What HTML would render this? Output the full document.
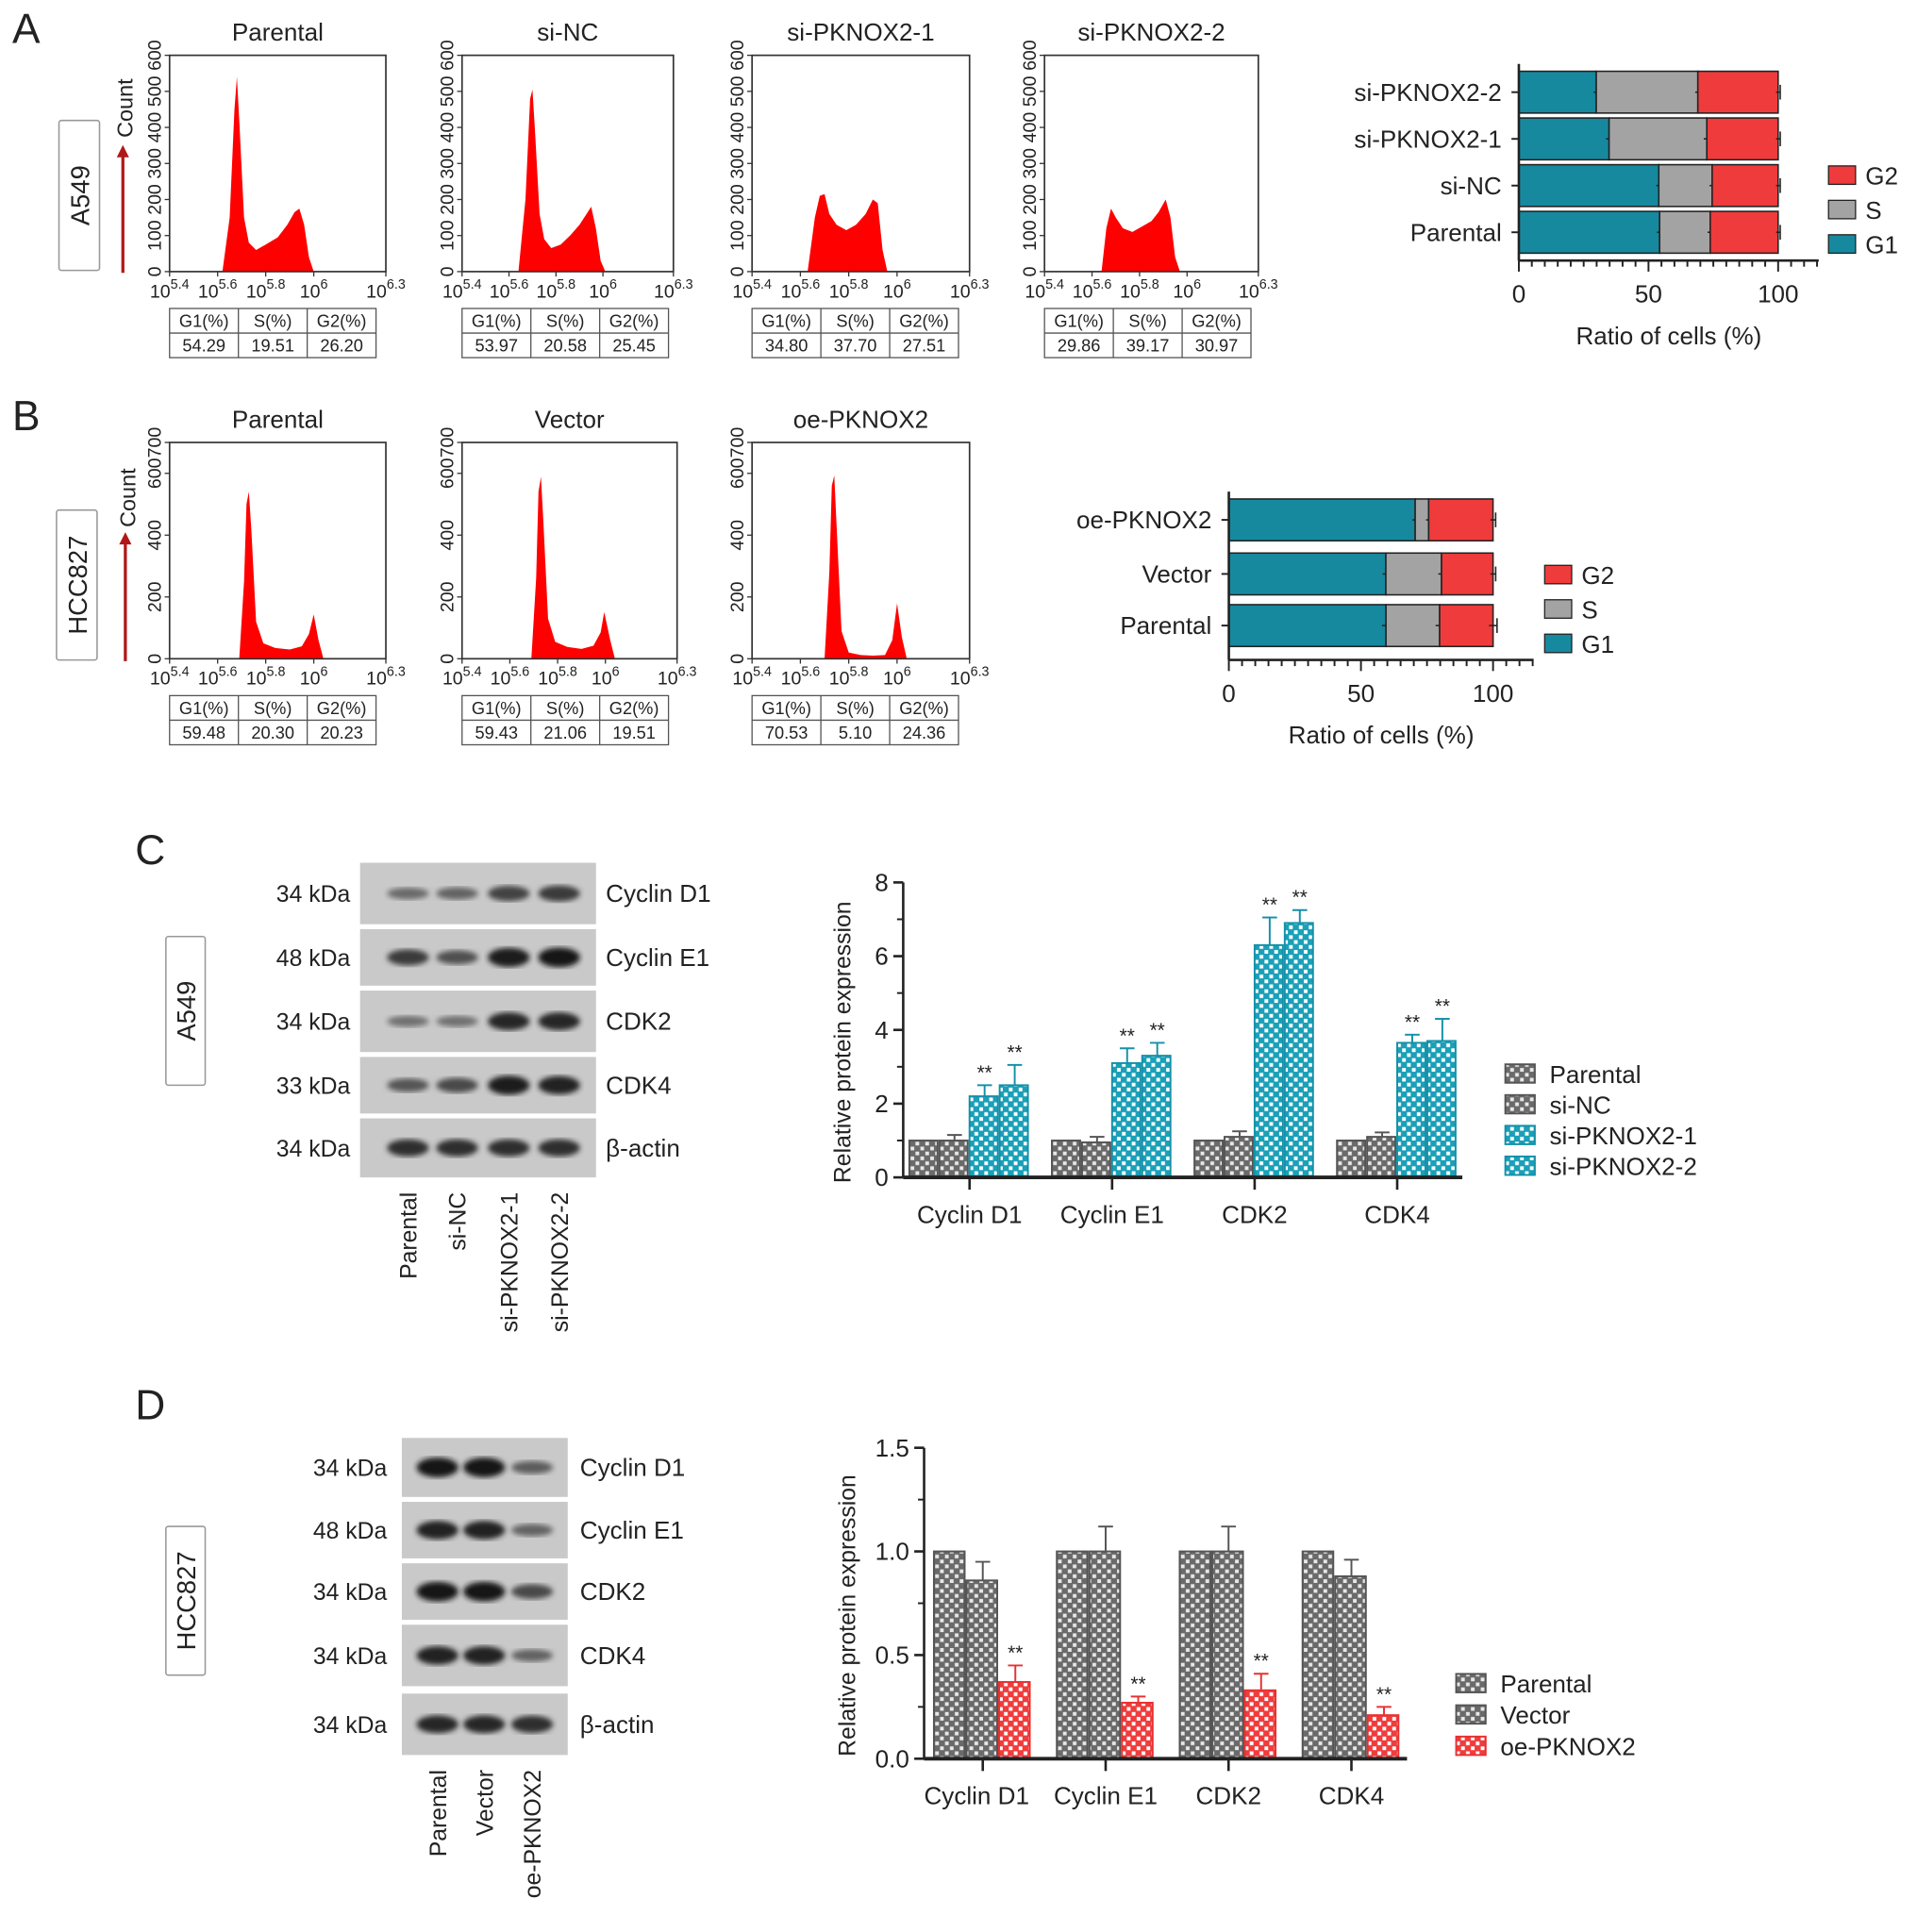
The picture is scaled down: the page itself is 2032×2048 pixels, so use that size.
<!DOCTYPE html>
<html><head><meta charset="utf-8">
<style>
html,body{margin:0;padding:0;background:#fff;}
svg{display:block;font-family:"Liberation Sans",Arial,sans-serif;}
</style></head>
<body>
<svg id="fig" width="2032" height="2048" viewBox="0 0 1560 1572" preserveAspectRatio="none" xmlns="http://www.w3.org/2000/svg">
<defs>
<pattern id="chkGray" width="8" height="8" patternUnits="userSpaceOnUse"><rect width="8" height="8" fill="#6a6a6a"/><rect x="1" y="1" width="3" height="3" fill="#e8e8e8"/><rect x="5" y="5" width="3" height="3" fill="#e8e8e8"/></pattern>
<pattern id="chkTeal" width="8" height="8" patternUnits="userSpaceOnUse"><rect width="8" height="8" fill="#1aa0b8"/><rect x="1" y="1" width="3" height="3" fill="#ffffff"/><rect x="5" y="5" width="3" height="3" fill="#ffffff"/></pattern>
<pattern id="chkRed" width="8" height="8" patternUnits="userSpaceOnUse"><rect width="8" height="8" fill="#f03c3c"/><rect x="1" y="1" width="3" height="3" fill="#ffffff"/><rect x="5" y="5" width="3" height="3" fill="#ffffff"/></pattern>
<filter id="blur2"><feGaussianBlur stdDeviation="2.2"/></filter>
</defs>
</svg>
<script>
// ===== Histogram data (log10 fluorescence, count) =====
const hA1x=[5.62,5.65,5.67,5.68,5.69,5.71,5.73,5.76,5.80,5.85,5.89,5.92,5.94,5.96,5.98,6.00];
const hA1y=[0,150,450,540,420,150,80,60,75,95,130,165,175,130,40,0];
const hA2x=[5.64,5.67,5.69,5.70,5.71,5.73,5.75,5.78,5.82,5.86,5.90,5.93,5.95,5.97,5.99,6.01];
const hA2y=[0,200,480,505,400,160,90,65,75,100,130,160,180,120,30,0];
const hA3x=[5.63,5.66,5.68,5.70,5.72,5.75,5.79,5.83,5.87,5.90,5.92,5.94,5.96];
const hA3y=[0,150,210,215,160,130,115,130,160,200,190,60,0];
const hA4x=[5.64,5.66,5.68,5.70,5.73,5.77,5.81,5.85,5.88,5.91,5.93,5.95,5.97];
const hA4y=[0,120,175,150,120,110,125,140,165,200,150,40,0];
const hB1x=[5.69,5.71,5.72,5.73,5.74,5.76,5.79,5.84,5.90,5.95,5.98,6.00,6.02,6.04];
const hB1y=[0,250,500,541,420,120,50,35,30,40,80,143,60,0];
const hB2x=[5.69,5.71,5.72,5.73,5.74,5.76,5.79,5.84,5.90,5.95,5.98,5.995,6.02,6.04];
const hB2y=[0,260,540,589,450,130,55,38,32,42,85,151,60,0];
const hB3x=[5.70,5.72,5.73,5.74,5.75,5.77,5.80,5.85,5.90,5.95,5.98,6.00,6.02,6.04];
const hB3y=[0,280,560,593,430,90,20,12,10,12,60,179,70,0];
const histTitlesA=['Parental','si-NC','si-PKNOX2-1','si-PKNOX2-2'];
const histTitlesB=['Parental','Vector','oe-PKNOX2'];
const xTickExps=['5.4','5.6','5.8','6','6.3'];
const yTicksA=[0,100,200,300,400,500,600];
const yTicksB=[0,200,400,600,700];
// cell cycle percentages (G1,S,G2)
const ccA=[[54.29,19.51,26.20],[53.97,20.58,25.45],[34.80,37.70,27.51],[29.86,39.17,30.97]];
const ccB=[[59.48,20.30,20.23],[59.43,21.06,19.51],[70.53,5.10,24.36]];
const ccErrA=[[1.0,1.0,0.8],[1.0,1.0,0.8],[1.2,1.2,0.8],[1.0,1.0,0.8]];
const ccErrB=[[1.5,1.5,1.5],[1.2,1.2,1.0],[1.0,1.0,1.0]];
// western quantification C
const cCats=['Cyclin D1','Cyclin E1','CDK2','CDK4'];
const cSeries=['Parental','si-NC','si-PKNOX2-1','si-PKNOX2-2'];
const cParental=[1,1,1,1];
const cSiNC=[1,0.95,1.1,1.1];
const cSi1=[2.2,3.1,6.3,3.65];
const cSi2=[2.5,3.3,6.9,3.7];
const cErrParental=[0,0,0,0];
const cErrSiNC=[0.15,0.15,0.15,0.12];
const cErrSi1=[0.3,0.4,0.75,0.22];
const cErrSi2=[0.55,0.35,0.35,0.6];
const cYTicks=[0,2,4,6,8];
// western quantification D
const dCats=['Cyclin D1','Cyclin E1','CDK2','CDK4'];
const dSeries=['Parental','Vector','oe-PKNOX2'];
const dParental=[1,1,1,1];
const dVector=[0.86,1.0,1.0,0.88];
const dOe=[0.37,0.27,0.33,0.21];
const dErrParental=[0,0,0,0];
const dErrVector=[0.09,0.12,0.12,0.08];
const dErrOe=[0.08,0.03,0.08,0.04];
const dYTicks=['0.0','0.5','1.0','1.5'];
// blot band intensities (0..1) per row per lane
const blotCRows=['Cyclin D1','Cyclin E1','CDK2','CDK4','β-actin'];
const blotCkDa=['34 kDa','48 kDa','34 kDa','33 kDa','34 kDa'];
const blotCInt=[[0.35,0.4,0.65,0.7],[0.7,0.55,0.95,1.0],[0.3,0.3,0.85,0.85],[0.5,0.6,0.95,0.9],[0.8,0.8,0.8,0.8]];
const blotCLanes=['Parental','si-NC','si-PKNOX2-1','si-PKNOX2-2'];
const blotDRows=['Cyclin D1','Cyclin E1','CDK2','CDK4','β-actin'];
const blotDkDa=['34 kDa','48 kDa','34 kDa','34 kDa','34 kDa'];
const blotDInt=[[1.0,1.0,0.45],[0.9,0.9,0.4],[1.0,1.0,0.6],[0.9,0.9,0.4],[0.85,0.85,0.8]];
const blotDLanes=['Parental','Vector','oe-PKNOX2'];

const NS='http://www.w3.org/2000/svg';
const svg=document.getElementById('fig');
function mk(parent,tag,attrs,text){const e=document.createElementNS(NS,tag);for(const k in attrs)e.setAttribute(k,attrs[k]);if(text!==undefined)e.textContent=text;parent.appendChild(e);return e;}
function txt(parent,x,y,s,size,anchor,name,rot){const t=mk(parent,'text',{x:x,y:y,'font-size':size,'text-anchor':anchor||'middle',fill:'#222'},s);if(rot)t.setAttribute('transform','rotate('+rot+' '+x+' '+y+')');


return t;}

// panel letters
[['A',10,35],['B',10,350],['C',110,703],['D',110,1155]].forEach(p=>{txt(svg,p[1],p[2],p[0],34,'start','panel-label-'+p[0].toLowerCase());});

// cell line boxes
function lineBox(x,y,w,h,label){const g=mk(svg,'g',{});


mk(g,'rect',{x:x,y:y,width:w,height:h,fill:'#fff',stroke:'#999','stroke-width':1.2,rx:2});
txt(g,x+w/2+8,y+h/2,label,21,'middle','cell-line-label',-90);}
lineBox(48,98,33,122,'A549');
lineBox(46,415,33,122,'HCC827');
lineBox(135,762,32,121,'A549');
lineBox(135,1242,32,121,'HCC827');

// count arrows
function countArrow(x,y1,y2,ty){const g=mk(svg,'g',{});


mk(g,'line',{x1:x,y1:y1,x2:x,y2:y2+6,stroke:'#b01818','stroke-width':2.5});
mk(g,'path',{d:'M'+(x-5)+' '+(y2+8)+' L'+x+' '+(y2-2)+' L'+(x+5)+' '+(y2+8)+'Z',fill:'#b01818'});
txt(g,x+8,ty,'Count',18,'middle','count-label',-90);}
countArrow(100,222,120,88);
countArrow(102,538,435,405);

function histogram(bx,by,bw,bh,xs,ys,ymax,yt,title,tbl,name){
  const g=mk(svg,'g',{});
  
  
  const X=v=>bx+(v-5.4)/0.9*bw, Y=v=>by+bh-v/ymax*bh;
  txt(g,bx+bw/2,by-12,title,20,'middle','histogram-title');
  let d='M'+X(xs[0])+' '+Y(0);
  for(let i=0;i<xs.length;i++)d+=' L'+X(xs[i]).toFixed(1)+' '+Y(ys[i]).toFixed(1);
  d+=' Z';
  const p=mk(g,'path',{d:d,fill:'#ff0000'});
  
  
  mk(g,'rect',{x:bx,y:by,width:bw,height:bh,fill:'none',stroke:'#333','stroke-width':1.3});
  yt.forEach(v=>{mk(g,'line',{x1:bx-4,x2:bx,y1:Y(v),y2:Y(v),stroke:'#333'});
    txt(g,bx-7,Y(v),String(v),15,'middle','y-tick-label',-90);});
  xTickExps.forEach(e=>{const xx=X(parseFloat(e));mk(g,'line',{x1:xx,x2:xx,y1:by+bh,y2:by+bh+4,stroke:'#333'});
    const t=mk(g,'text',{x:xx,y:by+bh+21,'font-size':15,'text-anchor':'middle',fill:'#222'});
    
    
    mk(t,'tspan',{},'10');mk(t,'tspan',{dy:-7,'font-size':11},e);});
  // table
  const tx=bx,ty=by+bh+30,cw=56,rh=20;
  const hd=['G1(%)','S(%)','G2(%)'];
  mk(g,'rect',{x:tx,y:ty,width:cw*3,height:rh*2,fill:'#fff',stroke:'#555','stroke-width':1});
  mk(g,'line',{x1:tx,x2:tx+cw*3,y1:ty+rh,y2:ty+rh,stroke:'#555'});
  for(let c=0;c<3;c++){if(c)mk(g,'line',{x1:tx+c*cw,x2:tx+c*cw,y1:ty,y2:ty+rh*2,stroke:'#555'});
    txt(g,tx+c*cw+cw/2,ty+15,hd[c],14,'middle','table-header');
    txt(g,tx+c*cw+cw/2,ty+rh+15,tbl[c].toFixed(2),14,'middle','table-value');}
}
histogram(138,45,176,176,hA1x,hA1y,600,yTicksA,histTitlesA[0],ccA[0],'histogram-a-parental');
histogram(376,45,172,176,hA2x,hA2y,600,yTicksA,histTitlesA[1],ccA[1],'histogram-a-si-nc');
histogram(612,45,177,176,hA3x,hA3y,600,yTicksA,histTitlesA[2],ccA[2],'histogram-a-si-pknox2-1');
histogram(850,45,174,176,hA4x,hA4y,600,yTicksA,histTitlesA[3],ccA[3],'histogram-a-si-pknox2-2');
histogram(138,360,176,176,hB1x,hB1y,700,yTicksB,histTitlesB[0],ccB[0],'histogram-b-parental');
histogram(376,360,175,176,hB2x,hB2y,700,yTicksB,histTitlesB[1],ccB[1],'histogram-b-vector');
histogram(612,360,177,176,hB3x,hB3y,700,yTicksB,histTitlesB[2],ccB[2],'histogram-b-oe-pknox2');

// stacked horizontal bars
function stacked(x0,x100,axisEnd,axisY,rowsY,barH,labels,vals,errs,legX,legY,name){
  const g=mk(svg,'g',{});
  
  
  const X=v=>x0+v/100*(x100-x0);
  const cols=['#16899f','#a3a3a3','#ef3b3b'];
  const phase=['g1','s','g2'];
  labels.forEach((lab,i)=>{const y=rowsY[i];let acc=0;
    for(let k=0;k<3;k++){const r=mk(g,'rect',{x:X(acc),y:y,width:X(acc+vals[i][k])-X(acc),height:barH,fill:cols[k],stroke:'#222','stroke-width':1.2});
      
      
      acc+=vals[i][k];
      const ex=X(acc),ew=errs[i][k]/100*(x100-x0);
      mk(g,'line',{x1:ex-ew,x2:ex+ew,y1:y+barH/2,y2:y+barH/2,stroke:'#222','stroke-width':1.2});
      mk(g,'line',{x1:ex+ew,x2:ex+ew,y1:y+barH/2-6,y2:y+barH/2+6,stroke:'#222','stroke-width':1.2});}
    mk(g,'line',{x1:x0-6,x2:x0,y1:y+barH/2,y2:y+barH/2,stroke:'#222','stroke-width':1.5});
    txt(g,x0-14,y+barH/2+7,lab,20,'end','category-label');});
  mk(g,'line',{x1:x0,x2:x0,y1:rowsY[0]-6,y2:axisY,stroke:'#222','stroke-width':2});
  mk(g,'line',{x1:x0,x2:axisEnd,y1:axisY,y2:axisY,stroke:'#222','stroke-width':2});
  for(let v=0;v<=((axisEnd-x0)/(x100-x0)*100);v+=5){const big=v%50===0;mk(g,'line',{x1:X(v),x2:X(v),y1:axisY,y2:axisY+(big?9:5),stroke:'#222','stroke-width':1.5});}
  [0,50,100].forEach(v=>txt(g,X(v),axisY+34,String(v),20,'middle','x-tick-label'));
  txt(g,(x0+axisEnd)/2,axisY+68,'Ratio of cells (%)',20,'middle','x-axis-title');
  [['G2',2],['S',1],['G1',0]].forEach((l,i)=>{const r=mk(g,'rect',{x:legX,y:legY+i*28,width:22,height:15,fill:cols[l[1]],stroke:'#222'});
    
    
    txt(g,legX+30,legY+i*28+15,l[0],20,'start','legend-label');});
}
stacked(1236,1447,1480,212,[58,96,134,172],34,['si-PKNOX2-2','si-PKNOX2-1','si-NC','Parental'],[ccA[3],ccA[2],ccA[1],ccA[0]],[ccErrA[3],ccErrA[2],ccErrA[1],ccErrA[0]],1488,135,'stacked-bar-chart-a');
stacked(1000,1215,1248,537,[406,450,492],34,['oe-PKNOX2','Vector','Parental'],[ccB[2],ccB[1],ccB[0]],[ccErrB[2],ccErrB[1],ccErrB[0]],1257,460,'stacked-bar-chart-b');

// western blots
function blot(x,w,strips,lanesX,ints,rows,kda,lanes,kdaX,labX,laneY,name){
  const g=mk(svg,'g',{});
  
  
  strips.forEach((s,i)=>{mk(g,'rect',{x:x,y:s[0],width:w,height:s[1]-s[0],fill:'#c9c9c9'});
    const cy=(s[0]+s[1])/2;
    lanesX.forEach((lx,j)=>{const v=ints[i][j];
      const b=mk(g,'ellipse',{cx:lx,cy:cy,rx:17,ry:3+v*5,fill:'rgb('+Math.round(150-v*130)+','+Math.round(150-v*130)+','+Math.round(150-v*130)+')',filter:'url(#blur2)'});
      
      });
    txt(g,kdaX,cy+7,kda[i],19,'end','kda-label');
    txt(g,labX,cy+7,rows[i],20,'start','protein-label');});
  lanesX.forEach((lx,j)=>txt(g,lx+7,laneY,lanes[j],19,'end','lane-label',-90));
}
blot(293,192,[[702,752],[756,802],[806,856],[860,906],[910,958]],[332,372,414,455],blotCInt,blotCRows,blotCkDa,blotCLanes,285,493,970,'western-blot-c');
blot(327,135,[[1170,1218],[1222,1268],[1272,1318],[1322,1372],[1378,1428]],[356,394,433],blotDInt,blotDRows,blotDkDa,blotDLanes,315,472,1440,'western-blot-d');

// grouped bar charts
function grouped(cfg){
  const g=mk(svg,'g',{});
  
  
  const Y=v=>cfg.y0-v/cfg.ymax*(cfg.y0-cfg.ytop);
  cfg.series.forEach((s,si)=>{cfg.vals[si].forEach((v,ci)=>{
    const x=cfg.gx0+ci*cfg.gstep+si*cfg.bw;
    const r=mk(g,'rect',{x:x,y:Y(v),width:cfg.bw-1.5,height:cfg.y0-Y(v),fill:'url(#'+cfg.fills[si]+')',stroke:cfg.strokes[si],'stroke-width':1.5});
    
    
    const e=cfg.errs[si][ci];
    if(e>0){const cx=x+cfg.bw/2;mk(g,'line',{x1:cx,x2:cx,y1:Y(v),y2:Y(v+e),stroke:cfg.strokes[si],'stroke-width':1.5});
      mk(g,'line',{x1:cx-6,x2:cx+6,y1:Y(v+e),y2:Y(v+e),stroke:cfg.strokes[si],'stroke-width':1.5});}
    if(cfg.sig[si])txt(g,x+cfg.bw/2,Y(v+e)-5,'**',16,'middle','significance-mark');
  });});
  mk(g,'line',{x1:cfg.ax,x2:cfg.ax,y1:cfg.ytop,y2:cfg.y0,stroke:'#222','stroke-width':2});
  mk(g,'line',{x1:cfg.ax,x2:cfg.axEnd,y1:cfg.y0,y2:cfg.y0,stroke:'#222','stroke-width':3});
  cfg.ticks.forEach(t=>{const v=parseFloat(t);mk(g,'line',{x1:cfg.ax-8,x2:cfg.ax,y1:Y(v),y2:Y(v),stroke:'#222','stroke-width':2});
    txt(g,cfg.ax-12,Y(v)+7,String(t),20,'end','y-tick-label');});
  cfg.minor.forEach(v=>mk(g,'line',{x1:cfg.ax-5,x2:cfg.ax,y1:Y(v),y2:Y(v),stroke:'#222','stroke-width':1.5}));
  cfg.cats.forEach((c,ci)=>{const cx=cfg.gx0+ci*cfg.gstep+cfg.series.length*cfg.bw/2;
    mk(g,'line',{x1:cx,x2:cx,y1:cfg.y0,y2:cfg.y0+10,stroke:'#222','stroke-width':2});
    txt(g,cx+cfg.lblOff[ci],cfg.y0+37,c,20,'middle','x-category-label');});
  txt(g,cfg.ylx,(cfg.y0+cfg.ytop)/2+10,'Relative protein expression',19,'middle','y-axis-title',-90);
  cfg.series.forEach((s,si)=>{const r=mk(g,'rect',{x:cfg.legX,y:cfg.legY+si*cfg.legStep,width:24,height:15,fill:'url(#'+cfg.fills[si]+')',stroke:cfg.strokes[si],'stroke-width':1.5});
    
    
    txt(g,cfg.legX+36,cfg.legY+si*cfg.legStep+15,s,20,'start','legend-label');});
}
grouped({name:'bar-chart-c',cats:cCats,series:cSeries,vals:[cParental,cSiNC,cSi1,cSi2],errs:[cErrParental,cErrSiNC,cErrSi1,cErrSi2],
  sig:[false,false,true,true],fills:['chkGray','chkGray','chkTeal','chkTeal'],strokes:['#555','#555','#1590a8','#1590a8'],
  y0:958,ytop:718,ymax:8,ax:735,axEnd:1190,gx0:740,gstep:116,bw:24.5,ticks:cYTicks,minor:[1,3,5,7],
  lblOff:[0,0,0,0],ylx:692,legX:1225,legY:866,legStep:25});
grouped({name:'bar-chart-d',cats:dCats,series:dSeries,vals:[dParental,dVector,dOe],errs:[dErrParental,dErrVector,dErrOe],
  sig:[false,false,true],fills:['chkGray','chkGray','chkRed'],strokes:['#555','#555','#e83030'],
  y0:1431,ytop:1178,ymax:1.5,ax:752,axEnd:1145,gx0:760,gstep:100,bw:26.5,ticks:dYTicks,minor:[0.25,0.75,1.25],
  lblOff:[-5,0,0,0],ylx:696,legX:1185,legY:1362,legStep:25.5});
</script>
</body></html>
